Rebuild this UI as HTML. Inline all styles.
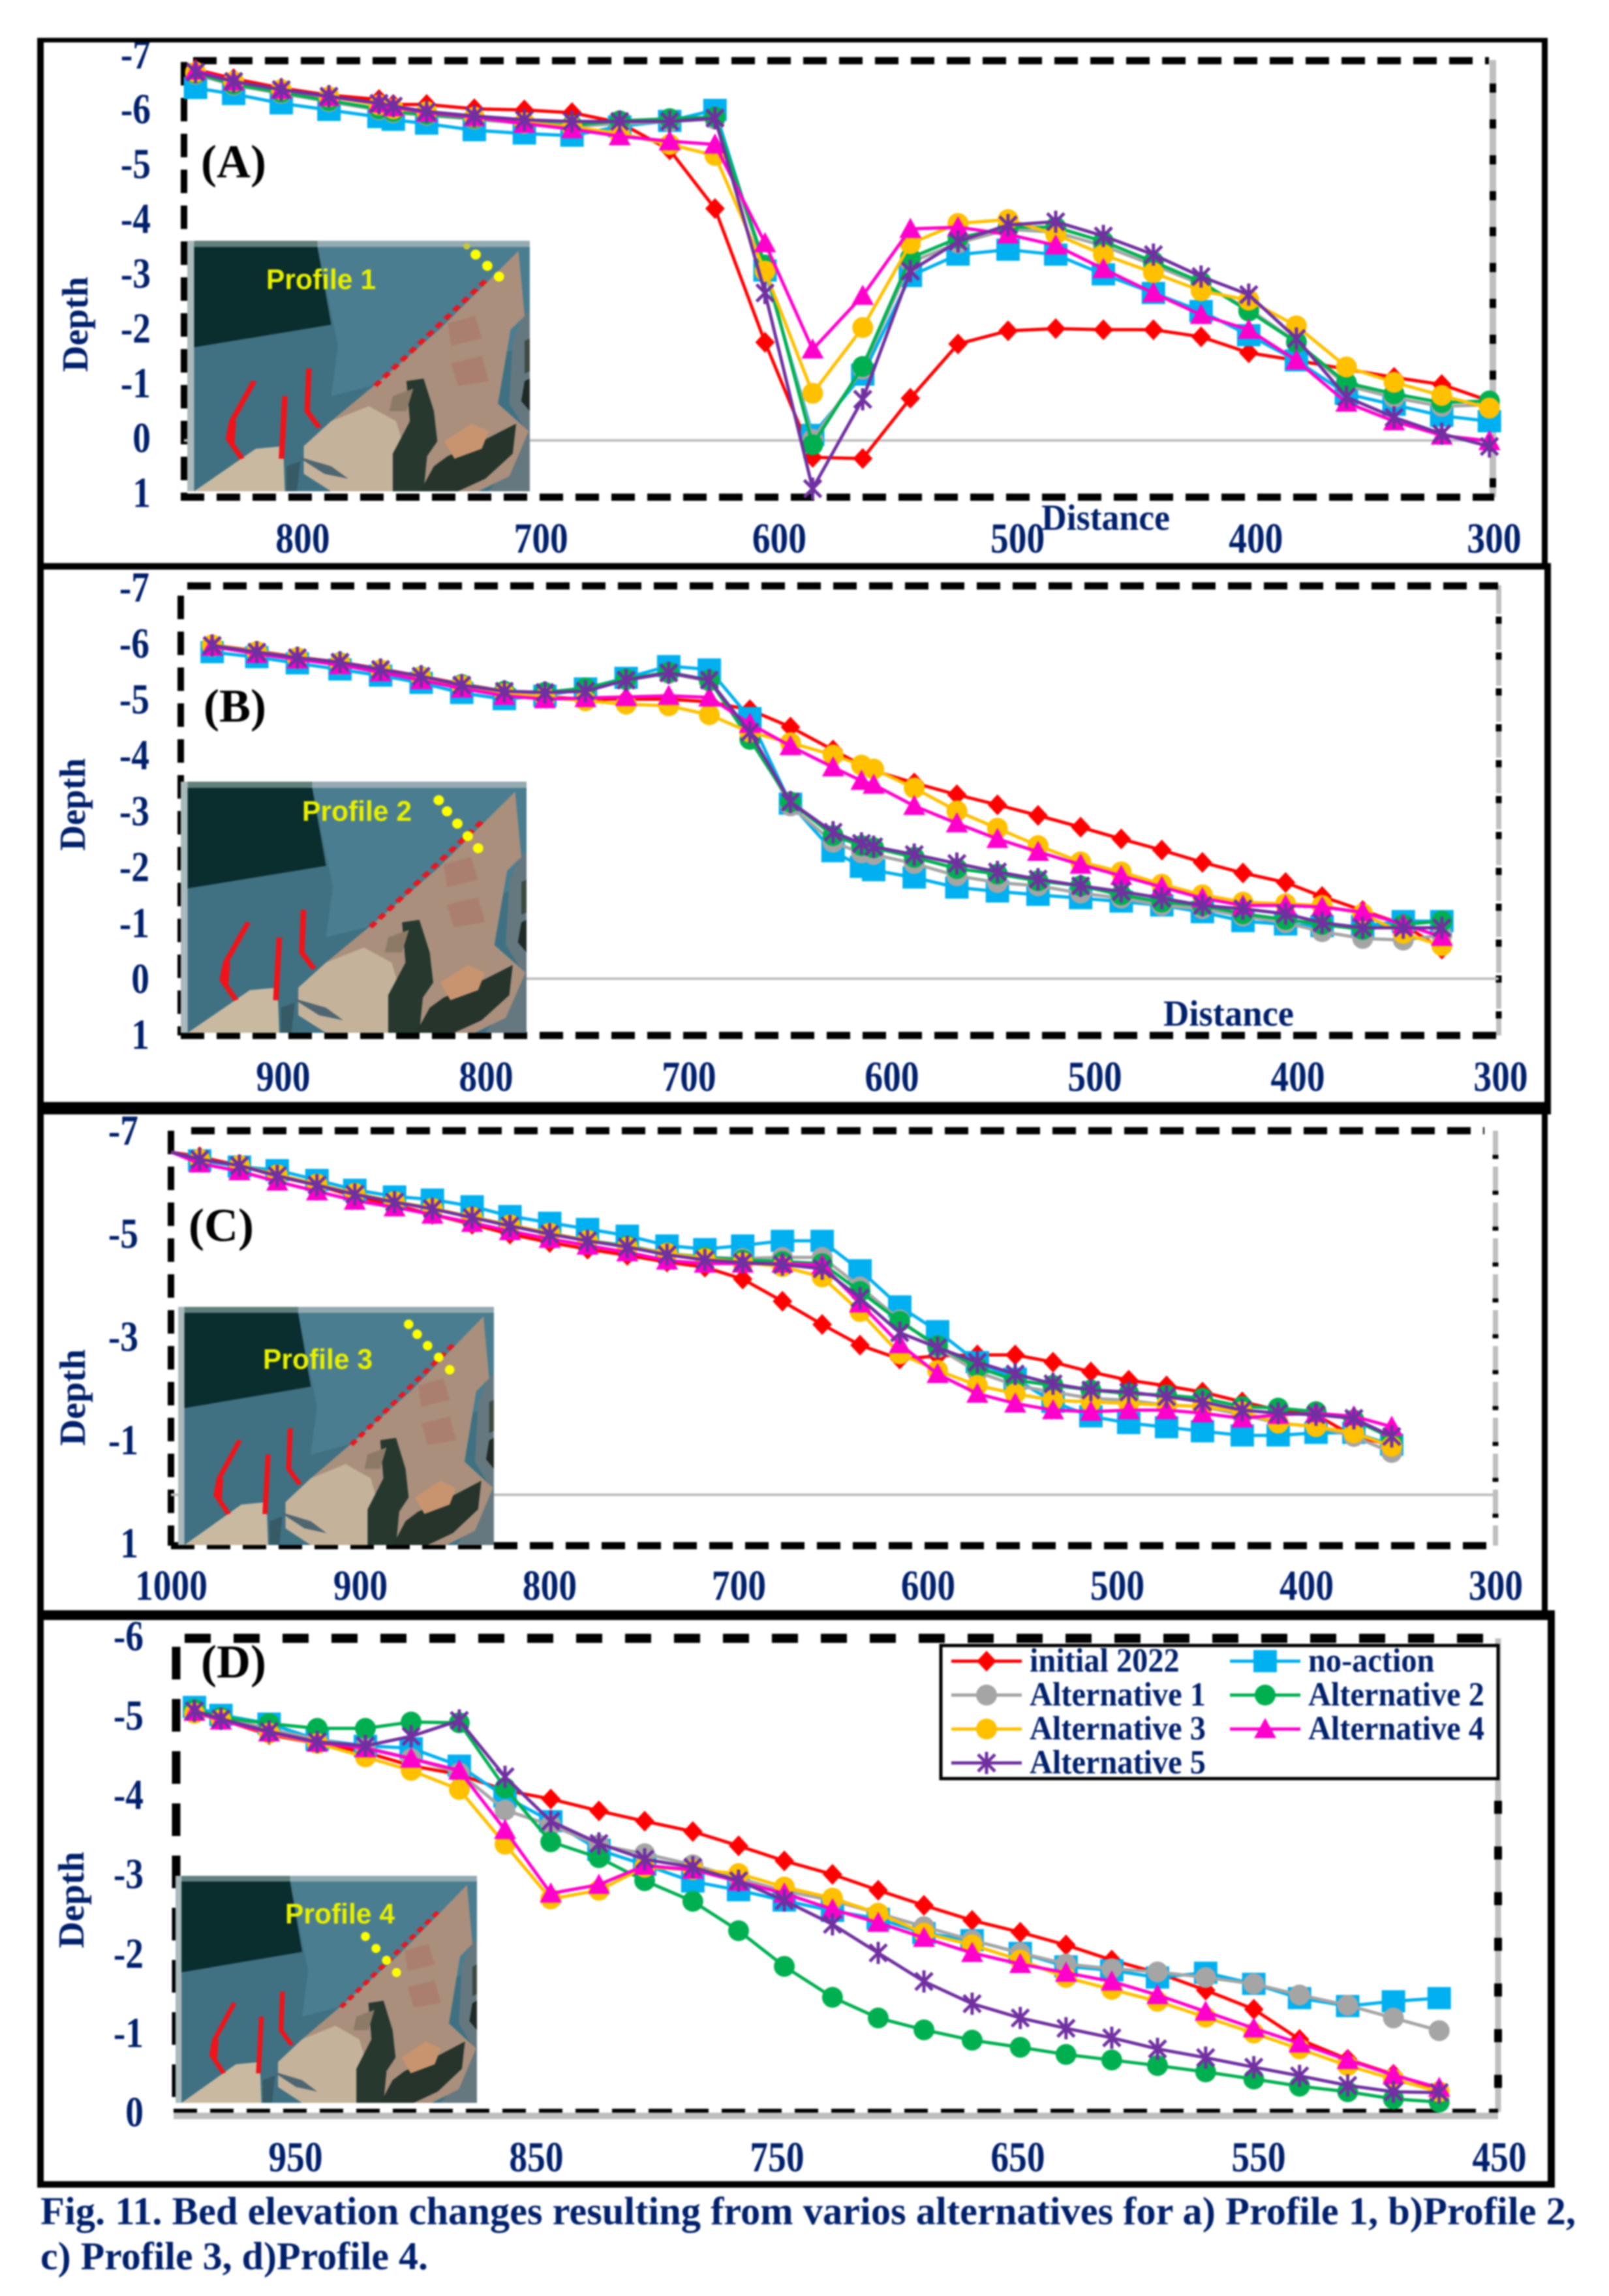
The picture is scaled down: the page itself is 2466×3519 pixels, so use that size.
<!DOCTYPE html>
<html lang="en">
<head>
<meta charset="utf-8">
<title>Bed elevation changes for profiles 1 to 4</title>
<style>
html,body{margin:0;padding:0;background:#fff;}
#figure{display:block;width:2466px;height:3519px;filter:blur(1.4px);font-family:"Liberation Serif",serif;}
.navy{fill:#00206b;font-weight:bold;}
.profile{fill:#e8f000;font-family:"Liberation Sans",sans-serif;font-weight:bold;font-size:44px;}
.panel-letter{fill:#000;font-size:72px;font-weight:bold;}
.dot{fill:#ffff00;}
</style>
</head>
<body>
<svg id="figure" xmlns="http://www.w3.org/2000/svg" width="2466" height="3519" viewBox="0 0 2466 3519">
<defs>
<symbol id="map-art" viewBox="0 0 1000 1000" preserveAspectRatio="none">
<rect x="0" y="0" width="1000" height="1000" fill="#3f7183"/>
<polygon points="380,20 1000,20 1000,420 420,620 440,420" fill="#4a7d90"/>
<rect x="0" y="0" width="1000" height="25" fill="#93aab0"/>
<rect x="0" y="0" width="380" height="25" fill="#617f7c"/>
<rect x="0" y="0" width="20" height="1000" fill="#a9b9bc"/>
<polygon points="20,25 380,25 420,335 20,425" fill="#0a2d2e"/>
<polygon points="980,300 1000,280 1000,1000 880,1000 950,880 990,760 940,650 950,400" fill="#65787f"/>
<polygon points="967,40 985,300 944,355 907,650 997,760 940,940 850,1000 420,1000 340,930 340,820 420,720 570,550 740,350" fill="#a98f7c"/>
<polygon points="340,820 420,720 530,660 610,720 640,860 600,1000 420,1000 340,930" fill="#c4b29b"/>
<polygon points="985,400 1000,390 1000,520 985,530" fill="#3c4a42"/>
<polygon points="985,560 1000,550 1000,680 975,640" fill="#1f2a26"/>
<polygon points="640,560 690,550 720,680 730,800 700,860 690,1000 600,1000 600,850 650,720" fill="#27382f"/>
<polygon points="760,860 860,800 960,730 950,850 870,950 790,1000 680,1000 720,900" fill="#26342c"/>
<polygon points="750,800 830,730 880,760 860,830 780,870" fill="#c8946f"/>
<polygon points="760,330 840,300 860,390 770,420" fill="#ab7f6f"/>
<polygon points="770,490 860,460 880,560 790,580" fill="#ab7f6f"/>
<polygon points="600,620 660,590 640,680 590,680" fill="#8c7a66"/>
<polygon points="20,1000 200,830 280,820 285,1000" fill="#c9b9a1"/>
<polygon points="320,860 420,900 470,950 400,930" fill="#4f6570"/>
<polygon points="290,900 330,880 320,1000 290,1000" fill="#365a66"/>
<polyline points="195,560 130,720 120,790 160,870" fill="none" stroke="#f0141a" stroke-width="16"/>
<polyline points="135,720 130,810" fill="none" stroke="#f0141a" stroke-width="16"/>
<polyline points="285,620 275,870" fill="none" stroke="#f0141a" stroke-width="16"/>
<polyline points="355,510 350,680 385,745" fill="none" stroke="#f0141a" stroke-width="16"/>
<line x1="870" y1="160" x2="540" y2="590" stroke="#e8161f" stroke-width="16" stroke-dasharray="24 18"/>
</symbol>
</defs>

<rect x="0" y="0" width="2466" height="3519" fill="#fff"/>

<!-- Panel frames (dashed plot outlines) -->
<g>
<line x1="2288" y1="92" x2="2288" y2="762" stroke="#bfbfbf" stroke-width="10"/>
<line x1="2288" y1="128" x2="2288" y2="762" stroke="#000" stroke-width="10" stroke-dasharray="14 41"/>
<line x1="296" y1="93" x2="2282" y2="93" stroke="#000" stroke-width="11" stroke-dasharray="36 19"/>
<line x1="282" y1="95" x2="282" y2="762" stroke="#000" stroke-width="10" stroke-dasharray="36 19"/>
<line x1="277" y1="762" x2="2290" y2="762" stroke="#000" stroke-width="11" stroke-dasharray="36 19"/>
<line x1="282" y1="675" x2="2288" y2="675" stroke="#bfbfbf" stroke-width="4"/>
</g>
<g>
<line x1="2297" y1="897" x2="2297" y2="1587" stroke="#bfbfbf" stroke-width="8" stroke-dasharray="44 11"/>
<line x1="2297" y1="945" x2="2297" y2="1587" stroke="#000" stroke-width="9" stroke-dasharray="11 44"/>
<line x1="287" y1="898" x2="2296" y2="898" stroke="#000" stroke-width="11" stroke-dasharray="36 19"/>
<line x1="277" y1="913" x2="277" y2="1587" stroke="#000" stroke-width="10" stroke-dasharray="36 19"/>
<line x1="277" y1="1587" x2="2296" y2="1587" stroke="#000" stroke-width="11" stroke-dasharray="36 19"/>
<line x1="277" y1="1500" x2="2297" y2="1500" stroke="#bfbfbf" stroke-width="4"/>
</g>
<g>
<line x1="2292" y1="1733" x2="2292" y2="2369" stroke="#bfbfbf" stroke-width="8" stroke-dasharray="44 11"/>
<line x1="2292" y1="1770" x2="2292" y2="2369" stroke="#000" stroke-width="9" stroke-dasharray="6 49"/>
<line x1="293" y1="1733" x2="2275" y2="1733" stroke="#000" stroke-width="11" stroke-dasharray="36 19"/>
<line x1="262" y1="1733" x2="262" y2="2369" stroke="#000" stroke-width="10" stroke-dasharray="36 19"/>
<line x1="262" y1="2369" x2="2292" y2="2369" stroke="#000" stroke-width="11" stroke-dasharray="36 19"/>
<line x1="262" y1="2291" x2="2292" y2="2291" stroke="#bfbfbf" stroke-width="4"/>
</g>
<g>
<line x1="2296" y1="2511" x2="2296" y2="3237" stroke="#bfbfbf" stroke-width="9"/>
<line x1="2296" y1="2760" x2="2296" y2="3237" stroke="#000" stroke-width="12" stroke-dasharray="20 50"/>
<line x1="283" y1="2511" x2="2300" y2="2511" stroke="#000" stroke-width="14" stroke-dasharray="40 35"/>
<line x1="270" y1="2524" x2="270" y2="3237" stroke="#000" stroke-width="13" stroke-dasharray="50 30"/>
<line x1="266" y1="3235" x2="2296" y2="3235" stroke="#000" stroke-width="6" stroke-dasharray="36 20"/>
<rect x="266" y="3238" width="2030" height="10" fill="#bfbfbf"/>
</g>

<!-- Site maps -->
<g>
<svg x="287" y="369" width="525" height="384" viewBox="0 0 1000 1000" preserveAspectRatio="none">
<use href="#map-art" x="0" y="0" width="1000" height="1000"/>
<ellipse class="dot" cx="842" cy="55" rx="15" ry="20"/><ellipse class="dot" cx="876" cy="100" rx="15" ry="20"/><ellipse class="dot" cx="910" cy="143" rx="15" ry="20"/><ellipse cx="816" cy="22" rx="10" ry="13" fill="#c8c83a"/>
</svg>
<text class="profile" x="408" y="443" textLength="168" lengthAdjust="spacingAndGlyphs">Profile 1</text>
</g>
<g>
<svg x="277" y="1198" width="530" height="385" viewBox="0 0 1000 1000" preserveAspectRatio="none">
<use href="#map-art" x="0" y="0" width="1000" height="1000"/>
<ellipse class="dot" cx="746" cy="74" rx="15" ry="20"/><ellipse class="dot" cx="770" cy="118" rx="15" ry="20"/><ellipse class="dot" cx="800" cy="167" rx="15" ry="20"/><ellipse class="dot" cx="830" cy="217" rx="15" ry="20"/><ellipse class="dot" cx="860" cy="265" rx="15" ry="20"/>
</svg>
<text class="profile" x="463" y="1258" textLength="168" lengthAdjust="spacingAndGlyphs">Profile 2</text>
</g>
<g>
<svg x="273" y="2003" width="484" height="365" viewBox="0 0 1000 1000" preserveAspectRatio="none">
<use href="#map-art" x="0" y="0" width="1000" height="1000"/>
<ellipse class="dot" cx="730" cy="73" rx="15" ry="20"/><ellipse class="dot" cx="757" cy="115" rx="15" ry="20"/><ellipse class="dot" cx="790" cy="163" rx="15" ry="20"/><ellipse class="dot" cx="825" cy="212" rx="15" ry="20"/><ellipse class="dot" cx="860" cy="264" rx="15" ry="20"/>
</svg>
<text class="profile" x="403" y="2098" textLength="168" lengthAdjust="spacingAndGlyphs">Profile 3</text>
</g>
<g>
<svg x="269" y="2875" width="462" height="348" viewBox="0 0 1000 1000" preserveAspectRatio="none">
<use href="#map-art" x="0" y="0" width="1000" height="1000"/>
<ellipse class="dot" cx="630" cy="267" rx="15" ry="20"/><ellipse class="dot" cx="665" cy="320" rx="15" ry="20"/><ellipse class="dot" cx="700" cy="372" rx="15" ry="20"/><ellipse class="dot" cx="733" cy="426" rx="15" ry="20"/>
</svg>
<text class="profile" x="437" y="2948" textLength="168" lengthAdjust="spacingAndGlyphs">Profile 4</text>
</g>

<!-- Panel letters and axis titles -->
<text class="panel-letter" x="308" y="272">(A)</text>
<text class="panel-letter" x="312" y="1106">(B)</text>
<text class="panel-letter" x="289" y="1902">(C)</text>
<text class="panel-letter" x="308" y="2571">(D)</text>

<text class="navy" font-size="56" text-anchor="middle" textLength="146" lengthAdjust="spacingAndGlyphs" transform="translate(134,497) rotate(-90)">Depth</text>
<text class="navy" font-size="56" text-anchor="middle" textLength="142" lengthAdjust="spacingAndGlyphs" transform="translate(130,1233) rotate(-90)">Depth</text>
<text class="navy" font-size="56" text-anchor="middle" textLength="148" lengthAdjust="spacingAndGlyphs" transform="translate(130,2142) rotate(-90)">Depth</text>
<text class="navy" font-size="56" text-anchor="middle" textLength="148" lengthAdjust="spacingAndGlyphs" transform="translate(128,2912) rotate(-90)">Depth</text>

<text class="navy" font-size="56" x="1596" y="812" textLength="197" lengthAdjust="spacingAndGlyphs">Distance</text>
<text class="navy" font-size="56" x="1783" y="1572" textLength="200" lengthAdjust="spacingAndGlyphs">Distance</text>

<g id="chart-layer"></g>

<!-- Outer panel boxes -->
<g fill="#000">
<rect x="57" y="58" width="10" height="815"/><rect x="57" y="58" width="2315" height="7"/><rect x="57" y="864" width="2315" height="9"/><rect x="2363" y="58" width="9" height="815"/>
</g>
<g fill="#000">
<rect x="57" y="863" width="10" height="837"/><rect x="57" y="863" width="2320" height="9"/><rect x="57" y="1689" width="2320" height="11"/><rect x="2367" y="863" width="10" height="837"/>
</g>
<g fill="#000">
<rect x="57" y="1690" width="10" height="790"/><rect x="57" y="1690" width="2320" height="18"/><rect x="57" y="2468" width="2315" height="12"/><rect x="2363" y="1700" width="9" height="780"/>
</g>
<g fill="#000">
<rect x="57" y="2468" width="10" height="885"/><rect x="57" y="2468" width="2326" height="15"/><rect x="57" y="3343" width="2326" height="10"/><rect x="2372" y="2468" width="11" height="885"/>
</g>

<!-- Legend -->
<g id="legend">
<rect x="1442" y="2522" width="854" height="204" fill="#fff" stroke="#000" stroke-width="5"/>
</g>

<!-- Caption -->
<text class="navy" font-size="60" x="62" y="3409" textLength="2353" lengthAdjust="spacingAndGlyphs">Fig. 11. Bed elevation changes resulting from varios alternatives for a) Profile 1, b)Profile 2,</text>
<text class="navy" font-size="60" x="62" y="3478" textLength="594" lengthAdjust="spacingAndGlyphs">c) Profile 3, d)Profile 4.</text>
</svg>

<script>
// ---------- Panel A (Profile 1) ----------
const aDistance = [845,829,809,789,768,762,748,728,707,687,667,646,627,606,586,565,545,525,504,484,464,443,423,403,383,362,342,322,302];
const aInitial = [-6.77,-6.6,-6.43,-6.3,-6.22,-6.13,-6.13,-6.05,-6.03,-5.98,-5.8,-5.3,-4.23,-1.79,0.31,0.33,-0.77,-1.76,-2.0,-2.04,-2.02,-2.02,-1.89,-1.6,-1.46,-1.3,-1.15,-1.02,-0.72];
const aNoAction = [-6.43,-6.32,-6.15,-6.03,-5.9,-5.85,-5.78,-5.66,-5.6,-5.56,-5.73,-5.83,-6.03,-3.1,-0.1,-1.2,-3.0,-3.39,-3.48,-3.39,-3.03,-2.69,-2.36,-1.92,-1.46,-0.85,-0.65,-0.45,-0.35];
const aAlt1 = [-6.68,-6.48,-6.33,-6.18,-6.03,-5.98,-5.93,-5.86,-5.78,-5.73,-5.78,-5.82,-5.86,-3.15,-0.02,-1.3,-3.25,-3.6,-3.85,-3.8,-3.55,-3.2,-2.85,-2.4,-1.8,-1.0,-0.78,-0.62,-0.65];
const aAlt2 = [-6.7,-6.5,-6.35,-6.2,-6.05,-6,-5.95,-5.88,-5.8,-5.75,-5.83,-5.87,-5.9,-3.2,0.08,-1.35,-3.33,-3.69,-3.89,-3.89,-3.63,-3.26,-2.89,-2.36,-1.79,-1.05,-0.85,-0.69,-0.72];
const aAlt3 = [-6.72,-6.55,-6.4,-6.27,-6.12,-6.05,-6.0,-5.9,-5.8,-5.72,-5.6,-5.4,-5.2,-3.09,-0.86,-2.06,-3.59,-3.96,-4.03,-3.76,-3.39,-3.06,-2.73,-2.56,-2.09,-1.34,-1.06,-0.82,-0.59];
const aAlt4 = [-6.75,-6.55,-6.4,-6.27,-6.15,-6.08,-5.98,-5.9,-5.78,-5.68,-5.55,-5.46,-5.4,-3.6,-1.66,-2.64,-3.86,-3.89,-3.76,-3.56,-3.13,-2.69,-2.29,-2.02,-1.46,-0.69,-0.35,-0.09,0.01];
const aAlt5 = [-6.72,-6.55,-6.4,-6.28,-6.15,-6.1,-6,-5.92,-5.85,-5.82,-5.82,-5.82,-5.88,-2.69,0.88,-0.75,-3.09,-3.63,-3.93,-3.99,-3.73,-3.39,-2.99,-2.66,-1.86,-0.79,-0.42,-0.12,0.11];
const aYTicks = [-7,-6,-5,-4,-3,-2,-1,0,1];
const aXTicks = [800,700,600,500,400,300];

// ---------- Panel B (Profile 2) ----------
const bDistance = [935,913,893,872,852,832,812,791,771,751,731,710,690,670,650,629,615,609,589,568,548,528,507,487,467,447,427,406,388,368,348,329];
const bInitial = [-5.97,-5.86,-5.75,-5.66,-5.54,-5.41,-5.27,-5.14,-5.04,-5.0,-5.0,-5.0,-4.95,-4.81,-4.5,-4.09,-3.82,-3.72,-3.5,-3.29,-3.11,-2.92,-2.71,-2.5,-2.3,-2.08,-1.89,-1.72,-1.47,-1.22,-0.97,-0.53];
const bNoAction = [-5.84,-5.75,-5.64,-5.53,-5.42,-5.29,-5.11,-5.0,-5.06,-5.19,-5.38,-5.59,-5.53,-4.66,-3.13,-2.28,-2.0,-1.94,-1.81,-1.63,-1.56,-1.5,-1.44,-1.38,-1.31,-1.19,-1.03,-0.97,-0.94,-0.94,-1.03,-1.03];
const bAlt1 = [-5.94,-5.83,-5.72,-5.62,-5.5,-5.37,-5.22,-5.1,-5.1,-5.16,-5.34,-5.46,-5.32,-4.4,-3.09,-2.44,-2.25,-2.22,-2.06,-1.84,-1.72,-1.66,-1.53,-1.44,-1.31,-1.25,-1.12,-1.0,-0.84,-0.72,-0.69,-0.78];
const bAlt2 = [-5.96,-5.85,-5.74,-5.65,-5.52,-5.4,-5.26,-5.14,-5.12,-5.2,-5.36,-5.48,-5.34,-4.28,-3.16,-2.56,-2.38,-2.34,-2.17,-1.97,-1.87,-1.75,-1.66,-1.5,-1.37,-1.31,-1.16,-1.06,-0.97,-0.88,-0.97,-1.03];
const bAlt3 = [-5.97,-5.85,-5.74,-5.64,-5.52,-5.39,-5.24,-5.1,-5.03,-4.97,-4.91,-4.88,-4.72,-4.41,-4.22,-4.0,-3.82,-3.75,-3.41,-3.0,-2.69,-2.38,-2.09,-1.91,-1.69,-1.5,-1.37,-1.34,-1.31,-1.16,-0.81,-0.59];
const bAlt4 = [-5.94,-5.81,-5.71,-5.61,-5.48,-5.34,-5.19,-5.06,-5,-5.02,-5.04,-5.06,-5.03,-4.56,-4.16,-3.78,-3.54,-3.47,-3.09,-2.78,-2.5,-2.27,-2.04,-1.84,-1.64,-1.44,-1.31,-1.31,-1.28,-1.19,-0.97,-0.75];
const bAlt5 = [-5.96,-5.84,-5.74,-5.66,-5.53,-5.41,-5.25,-5.14,-5.12,-5.14,-5.34,-5.47,-5.34,-4.41,-3.16,-2.62,-2.42,-2.36,-2.22,-2.06,-1.91,-1.78,-1.66,-1.56,-1.44,-1.31,-1.25,-1.16,-1,-0.91,-0.91,-0.91];
const bYTicks = [-7,-6,-5,-4,-3,-2,-1,0,1];
const bXTicks = [900,800,700,600,500,400,300];

// ---------- Panel C (Profile 3) ----------
const cDistance = [1000,985,964,944,923,903,882,862,841,821,800,780,759,738,718,698,677,656,636,615,595,574,554,534,514,494,474,455,434,415,395,375,355];
const cInitial = [-6.64,-6.55,-6.38,-6.17,-6.0,-5.78,-5.62,-5.43,-5.24,-5.05,-4.89,-4.76,-4.64,-4.51,-4.41,-4.18,-3.75,-3.3,-2.9,-2.63,-2.69,-2.71,-2.71,-2.57,-2.38,-2.22,-2.11,-1.99,-1.8,-1.64,-1.55,-1.13,-0.97];
const cNoAction = [-6.64,-6.48,-6.36,-6.29,-6.1,-5.91,-5.78,-5.72,-5.59,-5.4,-5.27,-5.15,-5.02,-4.83,-4.76,-4.83,-4.92,-4.92,-4.35,-3.65,-3.17,-2.57,-2.25,-1.8,-1.52,-1.39,-1.31,-1.23,-1.15,-1.15,-1.2,-1.2,-0.97];
const cAlt1 = [-6.64,-6.5,-6.38,-6.2,-6.02,-5.84,-5.68,-5.55,-5.38,-5.23,-5.07,-4.93,-4.82,-4.68,-4.6,-4.58,-4.6,-4.6,-4.03,-3.39,-2.85,-2.38,-2.12,-1.99,-1.87,-1.83,-1.74,-1.71,-1.55,-1.39,-1.32,-1.13,-0.82];
const cAlt2 = [-6.64,-6.5,-6.38,-6.2,-6.02,-5.84,-5.68,-5.55,-5.38,-5.23,-5.07,-4.93,-4.82,-4.68,-4.6,-4.55,-4.52,-4.48,-3.94,-3.36,-2.89,-2.47,-2.22,-2.12,-2.03,-1.96,-1.93,-1.87,-1.71,-1.68,-1.61,-1.45,-1.1];
const cAlt3 = [-6.64,-6.5,-6.38,-6.2,-6.02,-5.84,-5.68,-5.55,-5.38,-5.23,-5.07,-4.93,-4.8,-4.68,-4.58,-4.5,-4.42,-4.22,-3.55,-2.73,-2.41,-2.12,-1.96,-1.83,-1.8,-1.77,-1.74,-1.71,-1.61,-1.39,-1.32,-1.2,-0.94];
const cAlt4 = [-6.64,-6.42,-6.27,-6.07,-5.88,-5.7,-5.57,-5.43,-5.27,-5.11,-4.96,-4.83,-4.7,-4.54,-4.48,-4.48,-4.48,-4.45,-3.71,-2.92,-2.34,-1.96,-1.77,-1.64,-1.61,-1.64,-1.64,-1.58,-1.48,-1.55,-1.58,-1.52,-1.32];
const cAlt5 = [-6.64,-6.5,-6.38,-6.18,-6,-5.82,-5.67,-5.54,-5.37,-5.21,-5.05,-4.92,-4.8,-4.65,-4.55,-4.5,-4.46,-4.38,-3.81,-3.14,-2.85,-2.57,-2.34,-2.15,-2.03,-1.99,-1.9,-1.8,-1.64,-1.58,-1.55,-1.48,-1.13];
const cYTicks = [-7,-5,-3,-1,1];
const cXTicks = [1000,900,800,700,600,500,400,300];

// ---------- Panel D (Profile 4) ----------
const dDistance = [992,981,961,941,921,902,882,863,844,824,805,785,766,747,727,708,689,669,649,630,611,592,572,552,533,513,494,475];
const dInitial = [-5.08,-4.97,-4.78,-4.67,-4.56,-4.39,-4.28,-4.08,-3.97,-3.82,-3.69,-3.56,-3.38,-3.19,-3.02,-2.82,-2.63,-2.44,-2.29,-2.13,-1.94,-1.78,-1.56,-1.32,-0.94,-0.69,-0.5,-0.31];
const dNoAction = [-5.13,-5.03,-4.92,-4.72,-4.64,-4.61,-4.39,-4.0,-3.69,-3.33,-3.14,-2.93,-2.82,-2.69,-2.56,-2.46,-2.28,-2.19,-2.03,-1.86,-1.81,-1.72,-1.78,-1.64,-1.46,-1.36,-1.42,-1.46];
const dAlt1 = [-5.1,-5.0,-4.85,-4.72,-4.62,-4.48,-4.3,-3.83,-3.64,-3.39,-3.28,-3.14,-2.97,-2.81,-2.69,-2.53,-2.36,-2.19,-2.03,-1.89,-1.83,-1.79,-1.72,-1.64,-1.5,-1.37,-1.21,-1.05];
const dAlt2 = [-5.1,-5,-4.92,-4.86,-4.86,-4.94,-4.93,-4.11,-3.43,-3.23,-2.94,-2.68,-2.31,-1.86,-1.47,-1.21,-1.06,-0.93,-0.84,-0.75,-0.68,-0.61,-0.53,-0.44,-0.35,-0.28,-0.19,-0.15];
const dAlt3 = [-5.05,-4.97,-4.8,-4.67,-4.5,-4.33,-4.09,-3.4,-2.71,-2.82,-3.11,-3.08,-3.03,-2.86,-2.72,-2.53,-2.28,-2.13,-1.94,-1.72,-1.57,-1.42,-1.22,-1.02,-0.82,-0.61,-0.44,-0.28];
const dAlt4 = [-5.07,-4.96,-4.81,-4.68,-4.61,-4.48,-4.33,-3.58,-2.78,-2.89,-3.13,-3.08,-2.93,-2.78,-2.58,-2.41,-2.22,-2.03,-1.89,-1.78,-1.67,-1.5,-1.29,-1.08,-0.89,-0.68,-0.49,-0.33];
const dAlt5 = [-5.08,-4.98,-4.82,-4.69,-4.64,-4.76,-4.96,-4.25,-3.69,-3.41,-3.21,-3.11,-2.94,-2.69,-2.39,-2.03,-1.67,-1.39,-1.21,-1.08,-0.96,-0.82,-0.71,-0.59,-0.48,-0.36,-0.28,-0.27];
const dYTicks = [-6,-5,-4,-3,-2,-1,0];
const dXTicks = [950,850,750,650,550,450];

// ---------- Shared series names ----------
const seriesNames = ['initial 2022','no-action','Alternative 1','Alternative 2','Alternative 3','Alternative 4','Alternative 5'];

const SVG_NS = 'http://www.w3.org/2000/svg';
const styles = [
  {color:'#ff0000', shape:'diamond'},
  {color:'#00b0f0', shape:'square'},
  {color:'#a5a5a5', shape:'circle'},
  {color:'#00b050', shape:'circle'},
  {color:'#ffc000', shape:'circle'},
  {color:'#ff00cc', shape:'triangle'},
  {color:'#7030a0', shape:'star'}
];

function make(tag, attrs, parent) {
  const el = document.createElementNS(SVG_NS, tag);
  for (const k in attrs) el.setAttribute(k, attrs[k]);
  parent.appendChild(el);
  return el;
}

function drawMarker(shape, color, x, y, parent) {
  let m;
  if (shape === 'square') {
    m = make('rect', {x:x-18, y:y-17, width:36, height:34, fill:color}, parent);
  } else if (shape === 'diamond') {
    m = make('polygon', {points:(x-15)+','+y+' '+x+','+(y-16)+' '+(x+15)+','+y+' '+x+','+(y+16), fill:color}, parent);
  } else if (shape === 'circle') {
    m = make('circle', {cx:x, cy:y, r:16, fill:color}, parent);
  } else if (shape === 'triangle') {
    m = make('polygon', {points:(x-17)+','+(y+14)+' '+x+','+(y-17)+' '+(x+17)+','+(y+14), fill:color}, parent);
  } else {
    m = make('path', {d:'M'+(x-13)+' '+(y-13)+'L'+(x+13)+' '+(y+13)+'M'+(x+13)+' '+(y-13)+'L'+(x-13)+' '+(y+13)+'M'+x+' '+(y-17)+'L'+x+' '+(y+17), fill:'none', stroke:color, 'stroke-width':5}, parent);
  }
  
  
  return m;
}

function tickLabel(text, x, y, anchor, parent, name) {
  const t = make('text', {
    class:'navy', 'font-size':66, 'text-anchor':anchor,
    transform:'translate('+x+','+(y+22)+') scale(0.84,1)'
  }, parent);
  t.textContent = text;
  
  
}

function drawPanel(p) {
  const xOf = v => p.x0 + (p.v0 - v) * p.kx;
  const yOf = d => p.y0 + d * p.ky;
  const root = document.getElementById('chart-layer');
  const g = make('g', {}, root);
  
  

  p.series.forEach((vals, s) => {
    const st = styles[s];
    const sg = make('g', {}, g);
    
    
    const pts = vals.map((d, i) => xOf(p.distance[i]).toFixed(1) + ',' + yOf(d).toFixed(1)).join(' ');
    const line = make('polyline', {points:pts, fill:'none', stroke:st.color, 'stroke-width':5, 'stroke-linejoin':'round'}, sg);
    
    
    vals.forEach((d, i) => {
      if (i < p.firstMarker) return;
      drawMarker(st.shape, st.color, xOf(p.distance[i]), yOf(d), sg);
    });
  });

  p.yTicks.forEach(d => {
    tickLabel(String(d), p.yLabelX, yOf(d) + p.yLabelDy, 'end', g, p.id + '-y-tick-label');
  });
  p.xTicks.forEach(v => {
    tickLabel(String(v), xOf(v), p.xLabelY, 'middle', g, p.id + '-x-tick-label');
  });
}

const panels = [
  {id:'panel-a', distance:aDistance, series:[aInitial,aNoAction,aAlt1,aAlt2,aAlt3,aAlt4,aAlt5], yTicks:aYTicks, xTicks:aXTicks,
   x0:464, v0:800, kx:3.652, y0:675, ky:84, yLabelX:231, yLabelDy:-4, xLabelY:825, firstMarker:0},
  {id:'panel-b', distance:bDistance, series:[bInitial,bNoAction,bAlt1,bAlt2,bAlt3,bAlt4,bAlt5], yTicks:bYTicks, xTicks:bXTicks,
   x0:434, v0:900, kx:3.11, y0:1500, ky:85.7, yLabelX:229, yLabelDy:0, xLabelY:1650, firstMarker:0},
  {id:'panel-c', distance:cDistance, series:[cInitial,cNoAction,cAlt1,cAlt2,cAlt3,cAlt4,cAlt5], yTicks:cYTicks, xTicks:cXTicks,
   x0:262.5, v0:1000, kx:2.9, y0:2291, ky:79.1, yLabelX:212, yLabelDy:-5, xLabelY:2430, firstMarker:1},
  {id:'panel-d', distance:dDistance, series:[dInitial,dNoAction,dAlt1,dAlt2,dAlt3,dAlt4,dAlt5], yTicks:dYTicks, xTicks:dXTicks,
   x0:453, v0:950, kx:3.69, y0:3240, ky:121.6, yLabelX:220, yLabelDy:-3, xLabelY:3306, firstMarker:0}
];
panels.forEach(drawPanel);

function drawLegend() {
  const legend = document.getElementById('legend');
  const rowY = i => 2546 + Math.floor(i / 2) * 52;
  const colX = i => (i % 2 === 0) ? 1458 : 1885;
  seriesNames.forEach((name, i) => {
    const st = styles[i];
    const e = make('g', {}, legend);
    
    
    const x = colX(i);
    const y = rowY(i);
    const ln = make('line', {x1:x, y1:y, x2:x+108, y2:y, stroke:st.color, 'stroke-width':5}, e);
    
    
    drawMarker(st.shape, st.color, x + 54, y, e);
    const t = make('text', {class:'navy', 'font-size':52, transform:'translate('+(x+120)+','+(y+16)+') scale(0.93,1)'}, e);
    t.textContent = name;
    
    
  });
}
drawLegend();
</script>
</body>
</html>
